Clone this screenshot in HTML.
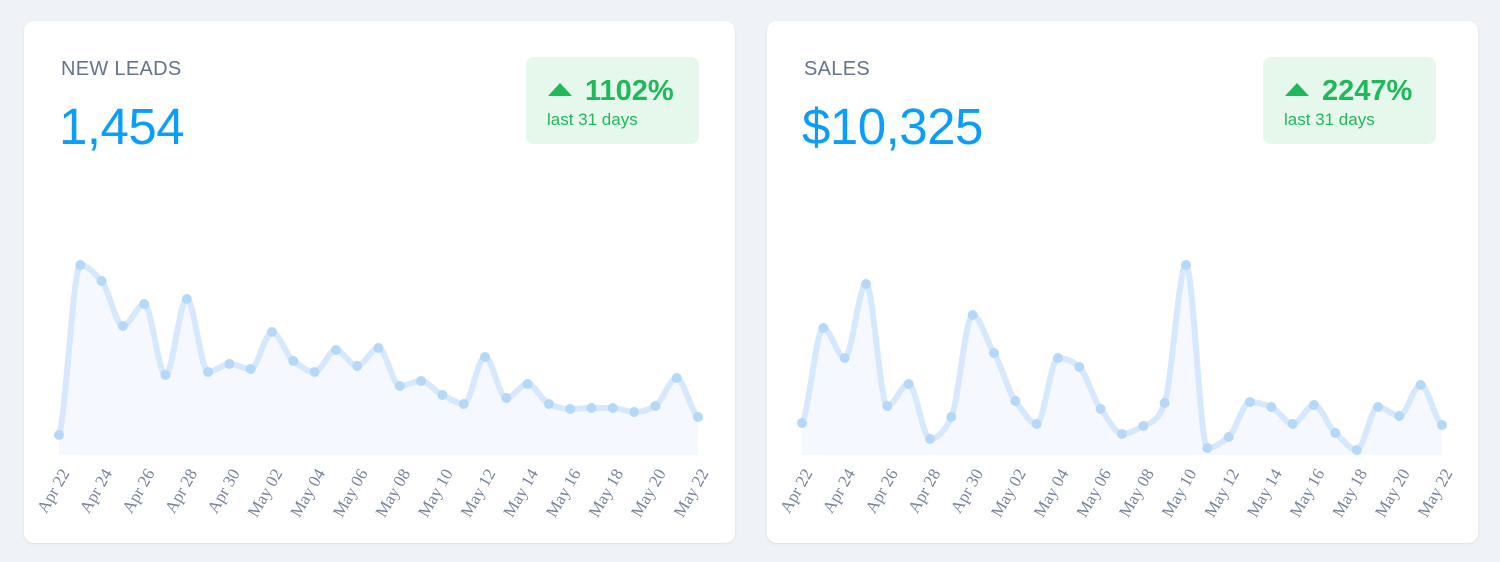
<!DOCTYPE html>
<html><head><meta charset="utf-8"><style>
body{margin:0;width:1500px;height:562px;background:#eff3f8;font-family:"Liberation Sans",sans-serif;position:relative;overflow:hidden}
.card{position:absolute;top:21px;width:711px;height:522px;background:#fff;border-radius:10px;box-shadow:0 1px 3px rgba(0,0,0,0.08)}
.t{position:absolute;left:37px;top:37px;font-size:20px;color:#65748c;letter-spacing:0.3px}
.v{position:absolute;left:35px;top:76px;font-size:51px;color:#0a9dfa;letter-spacing:-0.5px}
.b{position:absolute;top:36px;width:173px;height:87px;background:#e6f8ec;border-radius:8px;color:#1fb85a}
.b .p{position:absolute;left:22px;top:18px;font-size:29px;font-weight:bold}
.b .p:before{content:"";display:inline-block;border-left:12px solid transparent;border-right:12px solid transparent;border-bottom:13px solid #1fb85a;margin-right:13px;vertical-align:4px}
.b .d{position:absolute;left:21px;top:53px;font-size:17px}
svg{position:absolute;left:0;top:0}
</style></head><body>
<div class="card" style="left:24px"><div class="t">NEW LEADS</div><div class="v">1,454</div><div class="b" style="left:502px"><div class="p">1102%</div><div class="d">last 31 days</div></div></div>
<div class="card" style="left:767px"><div class="t">SALES</div><div class="v">$10,325</div><div class="b" style="left:496px"><div class="p">2247%</div><div class="d">last 31 days</div></div></div>
<svg id="s" width="1500" height="562"></svg>
<script>
const A=[435,265,281,326,304,375,299,372,364,369,332,361,372,350,366,348,386,381,395,404,357,398,384,404,409,408,408,412,406,378,417];
const B=[423,328,358,284,406,384,439,417,315,353,401,424,358,367,409,434,426,403,265,448,437,402,407,424,405,433,450,407,416,385,425];
const labels=["Apr 22","Apr 24","Apr 26","Apr 28","Apr 30","May 02","May 04","May 06","May 08","May 10","May 12","May 14","May 16","May 18","May 20","May 22"];
let h="";
function chart(x0,x1,Y){
 const n=Y.length,dx=(x1-x0)/(n-1);const P=Y.map((y,i)=>[x0+i*dx,y]);
 let d="M"+P[0][0]+","+P[0][1];
 for(let i=0;i<n-1;i++){const p0=P[Math.max(0,i-1)],p1=P[i],p2=P[i+1],p3=P[Math.min(n-1,i+2)];
  let s1=(p2[1]-p0[1])/8,s2=(p3[1]-p1[1])/8;
  if((p1[1]-p0[1])*(p2[1]-p1[1])<=0&&i>0)s1=0;
  if((p2[1]-p1[1])*(p3[1]-p2[1])<=0&&i<n-2)s2=0;
  const c1=[p1[0]+dx/3,p1[1]+s1],c2=[p2[0]-dx/3,p2[1]-s2];
  d+=` C${c1[0]},${c1[1]} ${c2[0]},${c2[1]} ${p2[0]},${p2[1]}`;}
 h+=`<path d="${d} L${x1},455 L${x0},455 Z" fill="#f5f9ff"/>`;
 h+=`<path d="${d}" fill="none" stroke="#d6e8fe" stroke-width="6"/>`;
 P.forEach(p=>h+=`<circle cx="${p[0]}" cy="${p[1]}" r="5" fill="#b5d8f8"/>`);
 labels.forEach((l,i)=>{const x=x0+i*2*dx+11,y=473;h+=`<text x="${x}" y="${y}" transform="rotate(-60 ${x} ${y})" text-anchor="end" font-family="Liberation Serif,serif" font-size="17" fill="#76839a">${l}</text>`;});
}
chart(59,698,A);chart(802,1442,B);
document.getElementById("s").innerHTML=h;
</script>
</body></html>
